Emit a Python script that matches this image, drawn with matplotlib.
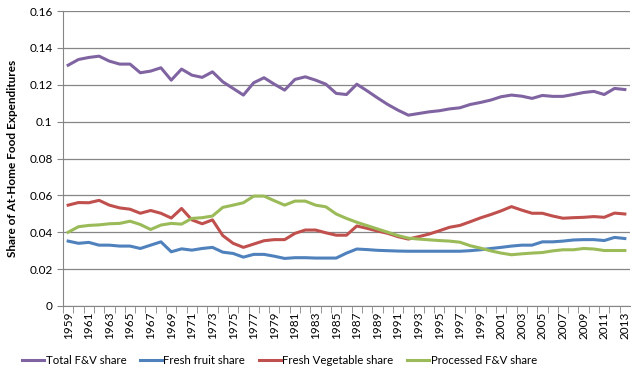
import numpy as np
import matplotlib
matplotlib.use('Agg')
from matplotlib import pyplot as plt
from matplotlib.ticker import FuncFormatter

# Anos 1959-2013
anos = list(range(1959, 2014))

total_fv = [0.1306, 0.1337, 0.1348, 0.1355, 0.1328, 0.1312, 0.1312, 0.1265, 0.1274, 0.1292,
            0.1225, 0.1285, 0.1252, 0.1240, 0.1270, 0.1216, 0.1180, 0.1144, 0.1211, 0.1238,
            0.1203, 0.1171, 0.1229, 0.1243, 0.1225, 0.1203, 0.1153, 0.1147, 0.1203, 0.1167,
            0.1129, 0.1093, 0.1062, 0.1035, 0.1044, 0.1053, 0.1059, 0.1069, 0.1075, 0.1093,
            0.1104, 0.1117, 0.1135, 0.1144, 0.1138, 0.1126, 0.1142, 0.1137, 0.1137, 0.1147,
            0.1158, 0.1164, 0.1147, 0.1180, 0.1174]

fresh_fruit = [0.0352, 0.0340, 0.0345, 0.0330, 0.0330, 0.0325, 0.0325, 0.0312, 0.0330, 0.0348,
               0.0294, 0.0310, 0.0303, 0.0312, 0.0318, 0.0292, 0.0285, 0.0265, 0.0280, 0.0280,
               0.0270, 0.0258, 0.0262, 0.0262, 0.0260, 0.0260, 0.0260, 0.0287, 0.0309, 0.0306,
               0.0302, 0.0300, 0.0298, 0.0297, 0.0297, 0.0297, 0.0297, 0.0297, 0.0297, 0.0300,
               0.0305, 0.0312, 0.0318, 0.0325, 0.0330, 0.0330, 0.0348, 0.0348, 0.0352, 0.0358,
               0.0360, 0.0360, 0.0355, 0.0372, 0.0366]

fresh_veg = [0.0547, 0.0561, 0.0560, 0.0573, 0.0547, 0.0532, 0.0525, 0.0503, 0.0518, 0.0503,
             0.0477, 0.0529, 0.0467, 0.0446, 0.0467, 0.0382, 0.0340, 0.0318, 0.0336, 0.0354,
             0.0360, 0.0360, 0.0394, 0.0412, 0.0412, 0.0397, 0.0384, 0.0384, 0.0434, 0.0421,
             0.0407, 0.0394, 0.0376, 0.0363, 0.0376, 0.0390, 0.0408, 0.0427, 0.0437, 0.0457,
             0.0478, 0.0496, 0.0516, 0.0539, 0.0520, 0.0503, 0.0503, 0.0488, 0.0476, 0.0479,
             0.0481, 0.0485, 0.0481, 0.0504, 0.0499]

processed_fv = [0.0400, 0.0430, 0.0437, 0.0440, 0.0446, 0.0448, 0.0460, 0.0442, 0.0415, 0.0439,
                0.0448, 0.0444, 0.0475, 0.0479, 0.0488, 0.0535, 0.0547, 0.0560, 0.0596, 0.0596,
                0.0571, 0.0547, 0.0569, 0.0569, 0.0547, 0.0538, 0.0499, 0.0475, 0.0454, 0.0436,
                0.0418, 0.0400, 0.0382, 0.0368, 0.0363, 0.0359, 0.0355, 0.0352, 0.0346, 0.0327,
                0.0314, 0.0299, 0.0287, 0.0278, 0.0283, 0.0287, 0.0290, 0.0299, 0.0305, 0.0305,
                0.0312, 0.0309, 0.0301, 0.0301, 0.0301]

plt.rcParams['font.family'] = ['Lato', 'DejaVu Sans']

fig = plt.figure(figsize=(6.44, 3.77), dpi=100)
ax = fig.add_axes([63 / 644, 1 - 306 / 377, (630 - 63) / 644, (306 - 11) / 377])

ax.plot(anos, total_fv, color='#8064A2', lw=2.2, label='Total F&V share')
ax.plot(anos, fresh_fruit, color='#4F81BD', lw=2.2, label='Fresh fruit share')
ax.plot(anos, fresh_veg, color='#C0504D', lw=2.2, label='Fresh Vegetable share')
ax.plot(anos, processed_fv, color='#9BBB59', lw=2.2, label='Processed F&V share')

ax.set_xlim(anos[0] - 0.5, anos[-1] + 0.5)
ax.set_ylim(0, 0.16)
ax.set_yticks(np.arange(0, 0.161, 0.02))
ax.yaxis.set_major_formatter(FuncFormatter(lambda v, p: '0' if v == 0 else ('%.2f' % v).rstrip('0')))
ax.grid(axis='y', color='#868686', lw=0.9)
ax.set_axisbelow(True)

ax.set_xticks(anos[::2])
ax.set_xticklabels([str(a) for a in anos[::2]], rotation=90)
ax.set_xticks([a + 0.5 for a in anos[:-1]] + [anos[0] - 0.5], minor=True)
ax.tick_params(axis='x', which='major', length=0, pad=4, labelsize=8.5, colors='black')
ax.tick_params(axis='x', which='minor', length=5, color='#868686')
ax.tick_params(axis='y', length=4, color='#868686', labelsize=8.5)

for lado in ['top', 'right']:
    ax.spines[lado].set_visible(False)
for lado in ['left', 'bottom']:
    ax.spines[lado].set_color('#868686')

ax.set_ylabel('Share of At-Home Food Expenditures', fontsize=8.5, fontweight='bold', labelpad=8)

fig.legend(*ax.get_legend_handles_labels(), loc='center left',
           bbox_to_anchor=(12 / 644, 1 - 360 / 377), ncol=4, frameon=False,
           fontsize=8.2, handlelength=1.9, handletextpad=0.15, columnspacing=1.2)

fig.savefig('out.png', dpi=100)
